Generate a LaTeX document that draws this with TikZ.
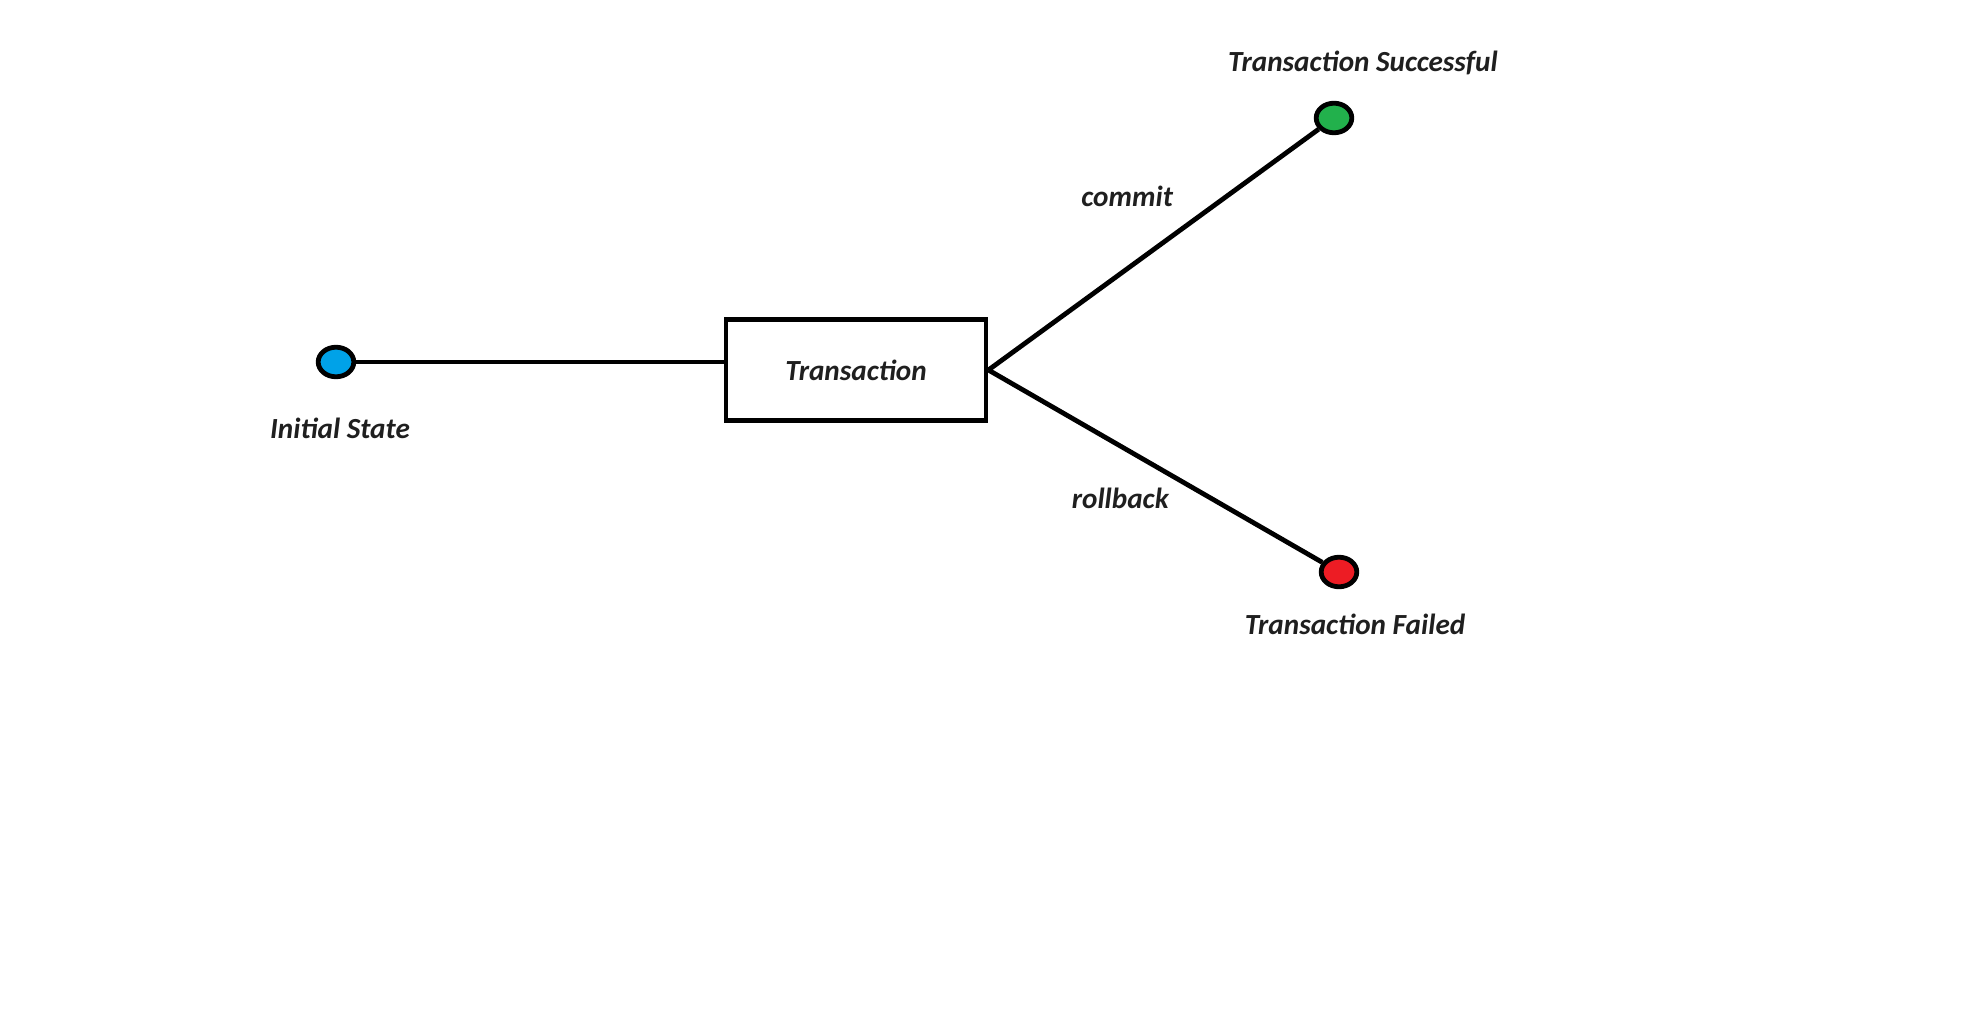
\documentclass[tikz,border=0pt]{standalone}
\usepackage{fontspec}
\setmainfont{Carlito}
\usetikzlibrary{shapes.geometric}
\definecolor{stateblue}{HTML}{00A2E8}
\definecolor{stategreen}{HTML}{22B14C}
\definecolor{statered}{HTML}{ED1C24}
\begin{document}
\begin{tikzpicture}[x=0.5pt, y=-0.5pt,
    every node/.style={font=\fontsize{14.6}{17}\selectfont\bfseries\itshape, text=black!88},
    dot/.style={draw, line width=2.4pt, ellipse, inner sep=0pt, minimum width=17.8pt, minimum height=14.8pt},
    link/.style={line width=2.4pt}]
    \useasboundingbox (0, 0) rectangle (1984, 1026);

    \node[dot, fill=stateblue] (init) at (336, 362) {};
    \node[dot, fill=stategreen] (ok) at (1334, 118) {};
    \node[dot, fill=statered] (fail) at (1339, 572) {};
    \node[draw, line width=2.4pt, minimum width=130pt, minimum height=50.5pt] (trans) at (856, 370) {Transaction};

    \node (initlabel) at (340, 428) {Initial State};
    \node (oklabel) at (1363, 63) {Transaction Successful};
    \node (faillabel) at (1355, 624) {Transaction Failed};

    \draw[link] (init) -- (init -| trans.west);
    \draw[link] (trans.east) -- node[pos=0.42, yshift=36pt] {commit} (ok);
    \draw[link] (trans.east) -- node[pos=0.395, yshift=-26pt] {rollback} (fail);
  \end{tikzpicture}
\end{document}
